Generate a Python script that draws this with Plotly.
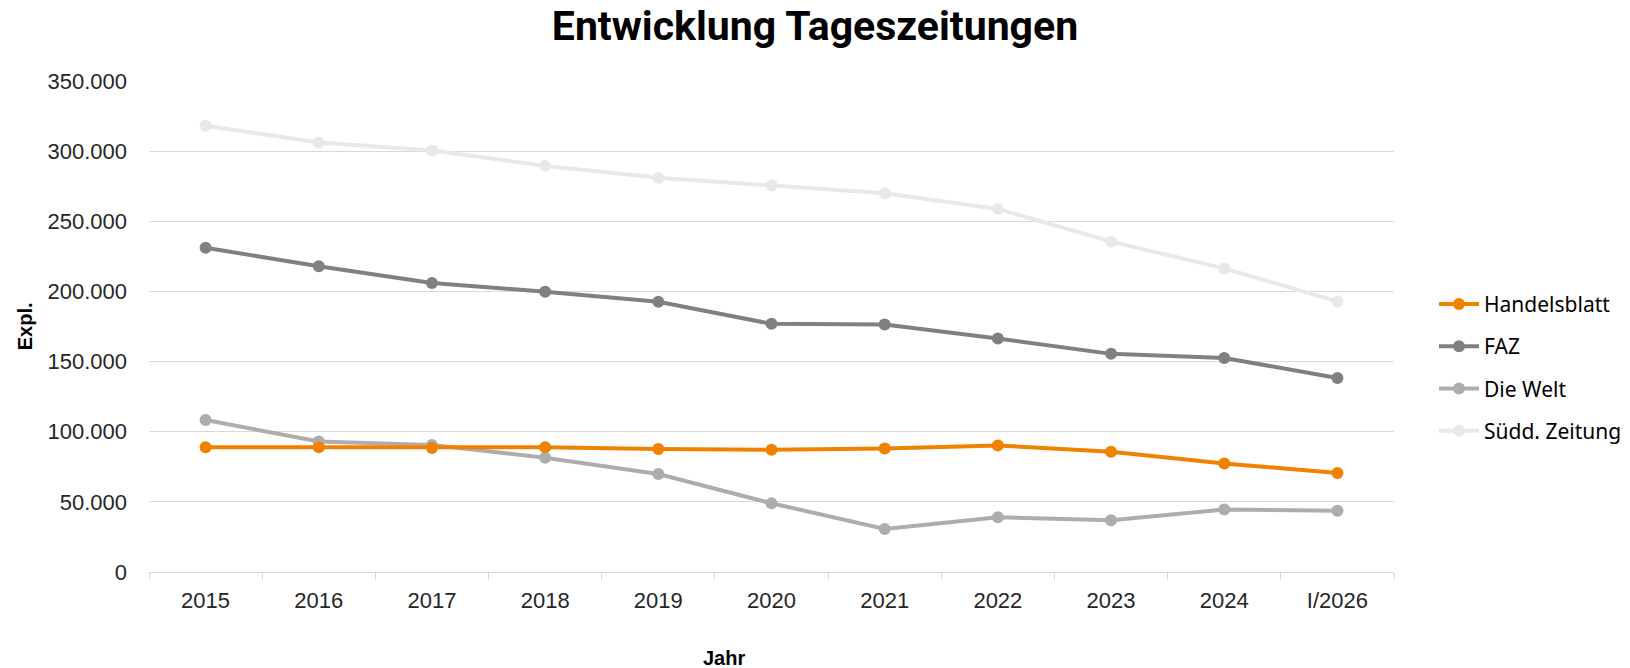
import plotly.graph_objects as go

categories = ["2015", "2016", "2017", "2018", "2019", "2020", "2021", "2022", "2023", "2024", "I/2026"]
handelsblatt = [88900, 88900, 88400, 88900, 87600, 87100, 88100, 90200, 85700, 77400, 70500]
faz = [231200, 217900, 206000, 199800, 192600, 176900, 176400, 166400, 155500, 152600, 138300]
die_welt = [108300, 93100, 90500, 81500, 69800, 49000, 30700, 39000, 36900, 44500, 43600]
suedd = [318100, 306200, 300500, 289500, 281000, 275500, 270000, 258800, 235500, 216400, 192900]
y_ticks = [0, 50000, 100000, 150000, 200000, 250000, 300000, 350000]
y_tick_labels = ["0", "50.000", "100.000", "150.000", "200.000", "250.000", "300.000", "350.000"]

series = [
    ("Handelsblatt", handelsblatt, "#F08200"),
    ("FAZ", faz, "#808080"),
    ("Die Welt", die_welt, "#ADADAD"),
    ("Südd. Zeitung", suedd, "#E8E8E8"),
]

fig = go.Figure()
# draw in reverse so Handelsblatt is on top
for i, (name, vals, col) in reversed(list(enumerate(series))):
    fig.add_trace(go.Scatter(
        x=categories, y=vals, name=name, mode="lines+markers",
        line=dict(color=col, width=4), marker=dict(color=col, size=12),
        legendgroup=name, legendrank=i + 1,
    ))

L, R = 149, 236
PW = 1630 - L - R

fig.update_layout(
    width=1630, height=668,
    paper_bgcolor="white", plot_bgcolor="white",
    margin=dict(l=L, r=R, t=81, b=96, autoexpand=False),
    title=dict(text="<b>Entwicklung Tageszeitungen</b>", x=0.5, xanchor="center",
               y=0.961, yanchor="middle",
               font=dict(family="Roboto", size=41, color="black")),
    font=dict(family="Liberation Sans", size=22, color="#262626"),
    legend=dict(x=(1434 - L) / PW, xanchor="left", y=0.416, yanchor="middle",
                font=dict(family="Noto Sans", size=21, color="black"),
                tracegroupgap=12, itemwidth=40),
    showlegend=True,
)
fig.update_xaxes(
    type="category", range=[-0.5, len(categories) - 0.5],
    showgrid=False, showline=True, linecolor="#D9D9D9", linewidth=1,
    ticks="outside", tickson="boundaries", ticklen=7, tickcolor="#D9D9D9",
    ticklabelstandoff=9, tickfont=dict(size=22, color="#262626"),
)
fig.update_yaxes(
    range=[0, 350000], tickvals=y_ticks, ticktext=y_tick_labels,
    showgrid=True, gridcolor="#D9D9D9", gridwidth=1, zeroline=False, showline=False,
    ticklabelstandoff=21, tickfont=dict(size=22, color="#262626"),
)
fig.add_annotation(text="<b>Expl.</b>", xref="paper", yref="paper", x=(25 - L) / PW, y=(571.7 - 326) / 491,
                   xanchor="center", yanchor="middle", textangle=-90, showarrow=False,
                   font=dict(family="Liberation Sans", size=20, color="black"))
fig.add_annotation(text="<b>Jahr</b>", xref="paper", yref="paper", x=(724 - L) / PW, y=(571.7 - 658) / 491,
                   xanchor="center", yanchor="middle", showarrow=False,
                   font=dict(family="Liberation Sans", size=20, color="black"))

fig.write_html("out.html", config={"displayModeBar": False},
               post_script="document.body.style.margin='0';")
